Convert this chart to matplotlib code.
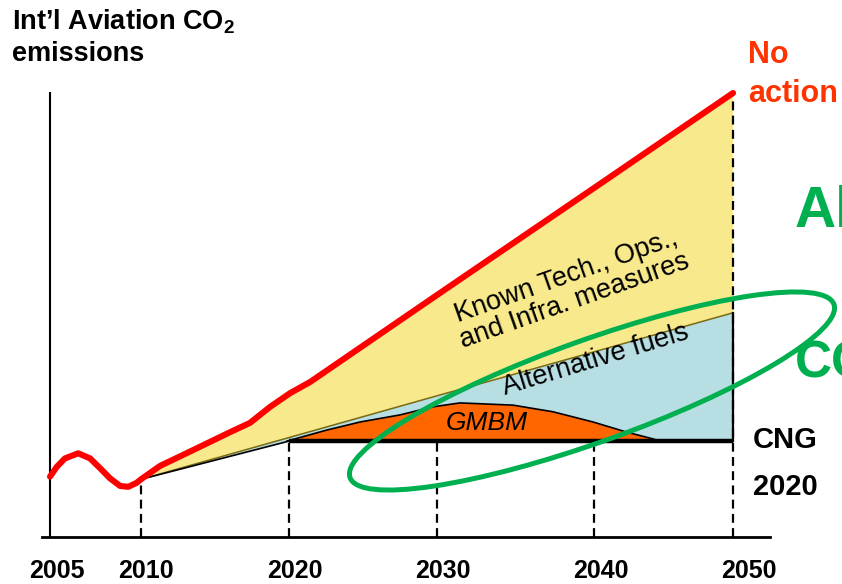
import numpy as np
import matplotlib
matplotlib.use("Agg")
import matplotlib.pyplot as plt
from matplotlib.patches import Ellipse
from matplotlib.transforms import ScaledTranslation

plt.rcParams['font.family'] = ['Liberation Sans', 'DejaVu Sans']
plt.rcParams['mathtext.fontset'] = 'custom'
plt.rcParams['mathtext.bf'] = 'Liberation Sans:bold'
plt.rcParams['mathtext.rm'] = 'Liberation Sans:bold'
plt.rcParams['mathtext.default'] = 'bf'

# ---------------- data ----------------
red_years = [2005.00, 2005.37, 2005.82, 2006.55, 2007.20, 2007.75, 2008.30, 2008.85,
             2009.30, 2009.76, 2010.00, 2011.28, 2013.78, 2016.01, 2017.36, 2018.72,
             2020.07, 2021.42, 2030.0, 2040.0, 2050.0]
red_vals = [13.6, 15.8, 17.7, 18.85, 17.7, 15.5, 13.2, 11.5,
            11.3, 12.2, 13.0, 16.0, 20.0, 23.6, 25.7, 29.3,
            32.4, 34.9, 54.5, 78.6, 100.0]

alt_years = [2010, 2020, 2030, 2040, 2050]
alt_vals = [13.0, 22.4, 31.8, 41.7, 50.5]

base_years = [2010, 2020, 2050]
base_vals = [13.0, 21.6, 21.6]
cng_level = 21.6

gmbm_years = [2019.86, 2022.57, 2024.8, 2027.5, 2029.7, 2031.46, 2034.84, 2037.39,
              2039.94, 2042.37, 2044.24, 2044.7]
gmbm_vals = [21.6, 24.1, 25.9, 27.5, 29.3, 30.2, 29.7, 28.2,
             25.9, 23.6, 22.1, 21.6]

tick_years = [2005, 2010, 2020, 2030, 2040, 2050]
tick_labels = ['2005', '2010', '2020', '2030', '2040', '2050']
dash_years = [2010, 2020, 2030, 2040, 2050]

# schematic (non-uniform) year axis knots
knot_years = [1990, 2005, 2010, 2020, 2030, 2040, 2050, 2070]
knot_pos = [-273, 0, 91, 239, 387, 544, 683, 961]

YELLOW = '#F7E98C'
BLUE = '#B7DEE3'
ORANGE = '#FF6600'
RED = '#FF0000'
GREEN = '#00B050'

fig = plt.figure(figsize=(8.42, 5.84), dpi=100)
ax = fig.add_axes([42 / 842, 47 / 584, 728 / 842, 444 / 584])


def fwd(x):
    return np.interp(x, knot_years, knot_pos)


def inv(p):
    return np.interp(p, knot_pos, knot_years)


ax.set_xscale('function', functions=(fwd, inv))
ax.set_xlim(2004.56, 2052.66)
ax.set_ylim(0, 100)

i0 = red_years.index(2010.0)
# yellow: known tech measures
ax.fill(red_years[i0:] + alt_years[::-1], red_vals[i0:] + alt_vals[::-1],
        color=YELLOW, lw=0, zorder=1)
# blue: alternative fuels
ax.fill(alt_years + base_years[::-1], alt_vals + base_vals[::-1],
        color=BLUE, lw=0, zorder=1)
# orange: GMBM
ax.fill(gmbm_years, gmbm_vals, color=ORANGE, lw=0, zorder=2)
ax.plot(gmbm_years, gmbm_vals, color='black', lw=1.2, zorder=2.5)

# boundaries
ax.plot(alt_years, alt_vals, color='#7A6A10', lw=1.1, zorder=2.5)
ax.plot(base_years[:2], base_vals[:2], color='black', lw=1.2, zorder=2.5)
ax.plot(base_years[1:], base_vals[1:], color='black', lw=3.2, zorder=3,
        solid_capstyle='butt')
ax.plot([alt_years[-1], alt_years[-1]], [cng_level, alt_vals[-1]], color='black',
        lw=1.6, zorder=3)

# dashed verticals
for yr in dash_years:
    top = red_vals[-1] if yr == 2050 else float(np.interp(yr, base_years, base_vals))
    ax.plot([yr, yr], [0, top], color='black', lw=1.6, ls=(0, (4.0, 2.4)), zorder=2.6)

# red "no action" line
ax.plot(red_years, red_vals, color=RED, lw=4.4, zorder=4, solid_capstyle='round',
        solid_joinstyle='round', clip_on=False)

# region labels
ax.text(2038.5, 55.9, 'Known Tech., Ops.,\nand Infra. measures', rotation=19.5,
        rotation_mode='anchor', ha='center', va='center', fontsize=19.5,
        linespacing=1.05, zorder=5)
ax.text(2040.1, 39.8, 'Alternative fuels', rotation=17, rotation_mode='anchor',
        ha='center', va='center', fontsize=19.5, zorder=5)
ax.text(2033.2, 25.7, 'GMBM', style='italic', ha='center', va='center',
        fontsize=19, zorder=5)

# axes styling
for s in ['top', 'right']:
    ax.spines[s].set_visible(False)
ax.spines['left'].set_position(('data', 2005))
ax.spines['left'].set_linewidth(1.5)
ax.spines['bottom'].set_linewidth(2.0)
ax.set_yticks([])
ax.set_xticks(tick_years)
ax.set_xticklabels(tick_labels, fontsize=18, fontweight='bold')
ax.tick_params(axis='x', length=0, pad=16)
ax.xaxis.set_minor_locator(matplotlib.ticker.NullLocator())
ax.patch.set_alpha(0)
shifts = [7, 5, 6, 6, 7, 16]
for lab, dx in zip(ax.get_xticklabels(), shifts):
    lab.set_transform(lab.get_transform() + ScaledTranslation(dx / 100, 0, fig.dpi_scale_trans))

# overlay in pixel coordinates
ov = fig.add_axes([0, 0, 1, 1], zorder=10)
ov.set_xlim(0, 842)
ov.set_ylim(584, 0)
ov.axis('off')
ov.patch.set_alpha(0)

ov.text(12, 30, 'Int’l Aviation CO$_2$', fontsize=19.5, fontweight='bold',
        va='baseline', ha='left')
ov.text(12, 61, 'emissions', fontsize=19.5, fontweight='bold', va='baseline', ha='left')

ov.text(748, 63, 'No', fontsize=22, fontweight='bold', color='#FF3300', va='baseline')
ov.text(748, 102, 'action', fontsize=22, fontweight='bold', color='#FF3300', va='baseline')

ov.text(753, 448, 'CNG', fontsize=21, fontweight='bold', va='baseline')
ov.text(753, 495, '2020', fontsize=21, fontweight='bold', va='baseline')

ov.text(795, 227, 'Al', fontsize=41, fontweight='bold', color=GREEN, va='baseline')
ov.text(795, 377, 'CO', fontsize=37, fontweight='bold', color=GREEN, va='baseline')

ov.add_patch(Ellipse((592, 391), 514, 102, angle=-19.7, fill=False, ec=GREEN, lw=3.6))

fig.savefig('out.png', dpi=100)
